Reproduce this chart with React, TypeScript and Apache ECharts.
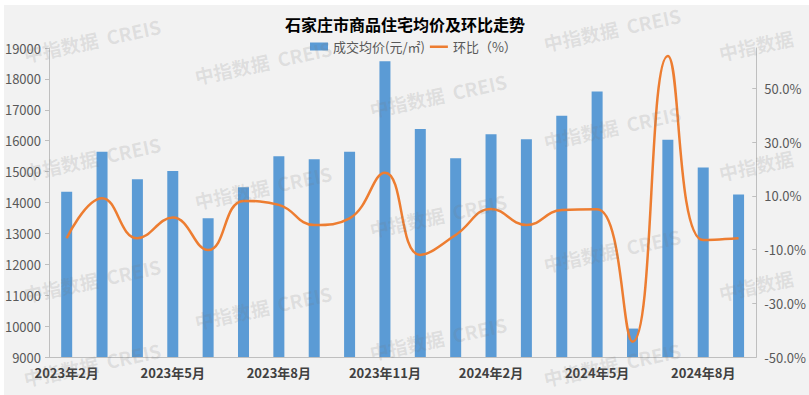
import React, { useEffect, useRef } from "react";
import * as echarts from "echarts";

const categories = [
  "2023年2月", "2023年3月", "2023年4月", "2023年5月", "2023年6月", "2023年7月",
  "2023年8月", "2023年9月", "2023年10月", "2023年11月", "2023年12月", "2024年1月",
  "2024年2月", "2024年3月", "2024年4月", "2024年5月", "2024年6月", "2024年7月",
  "2024年8月", "2024年9月",
];
const avgPrice = [
  14350, 15640, 14750, 15020, 13490, 14490, 15500, 15400, 15640, 18570,
  16380, 15430, 16210, 16050, 16810, 17590, 9920, 16030, 15130, 14260,
];
const momChange = [
  -5.8, 9.1, -5.8, 1.9, -10.2, 8.1, 6.6, -0.9, 1.6, 18.6,
  -12.0, -4.6, 5.1, -0.9, 4.7, 5.0, -44.3, 62.0, -6.5, -5.8,
];
const leftTicks = { min: 9000, max: 19000, interval: 1000 };
const rightTicks = { min: -50, max: 65, interval: 20 };

const watermarks: Array<[number, number, string]> = [
  [92, 40, "中指数据  CREIS"],
  [92, 158, "中指数据  CREIS"],
  [92, 280, "中指数据  CREIS"],
  [92, 364, "中指数据  CREIS"],
  [263, 62, "中指数据  CREIS"],
  [263, 187, "中指数据  CREIS"],
  [263, 307, "中指数据  CREIS"],
  [438, 95, "中指数据  CREIS"],
  [438, 215, "中指数据  CREIS"],
  [438, 338, "中指数据  CREIS"],
  [612, 29, "中指数据  CREIS"],
  [612, 127, "中指数据  CREIS"],
  [612, 250, "中指数据  CREIS"],
  [612, 364, "中指数据  CREIS"],
  [756, 45, "中指数据"],
  [756, 165, "中指数据"],
  [756, 285, "中指数据"],
];

const lineIcon =
  "path://M0,0 L0.01,0 L0.01,0.01 Z M0,3 L18,3 L18,5.5 L0,5.5 Z M17.99,8 L18,8 L18,7.99 Z";

export default function App() {
  const ref = useRef<HTMLDivElement>(null);
  useEffect(() => {
    if (!ref.current) return;
    const chart = echarts.init(ref.current, undefined, { renderer: "svg" });
    const font = '"Noto Sans CJK SC", "Noto Sans", sans-serif';
    const graphics: any[] = [
      {
        type: "rect",
        z: -100,
        silent: true,
        shape: { x: 4, y: 5, width: 805, height: 390 },
        style: { fill: "#f2f2f2" },
      },
    ];
    watermarks.forEach(([x, y, t]) => {
      graphics.push({
        type: "text",
        x,
        y,
        rotation: (12 * Math.PI) / 180,
        z: 100,
        silent: true,
        style: {
          text: t,
          fill: "rgba(120,120,120,0.16)",
          fontSize: 19,
          fontWeight: "bold",
          fontFamily: font,
          align: "center",
          verticalAlign: "middle",
        },
      });
    });
    chart.setOption({
      animation: false,
      textStyle: { fontFamily: font },
      title: {
        text: "石家庄市商品住宅均价及环比走势",
        left: 280,
        top: 11,
        textStyle: { fontSize: 16, fontWeight: "bold", color: "#000", fontFamily: font },
      },
      legend: {
        left: 305,
        top: 35,
        itemWidth: 18,
        itemHeight: 8,
        itemGap: 5,
        textStyle: { fontSize: 13, color: "#595959", fontFamily: font },
        data: [
          { name: "成交均价(元/㎡)", icon: "rect" },
          { name: "环比（%）", icon: lineIcon, itemStyle: { color: "#ed7d31" } },
        ],
      },
      graphic: graphics,
      grid: { left: 49, right: 52, top: 48, bottom: 38 },
      xAxis: {
        type: "category",
        data: categories,
        axisLine: { onZero: false, lineStyle: { color: "#bfbfbf", width: 1 } },
        axisTick: { interval: 2, length: 4, lineStyle: { color: "#bfbfbf" } },
        axisLabel: {
          interval: 2,
          margin: 9,
          fontSize: 13,
          fontWeight: "bold",
          color: "#404040",
          fontFamily: font,
        },
      },
      yAxis: [
        {
          type: "value",
          min: leftTicks.min,
          max: leftTicks.max,
          interval: leftTicks.interval,
          axisLine: { show: true, lineStyle: { color: "#bfbfbf" } },
          axisTick: { show: true, length: 4, lineStyle: { color: "#bfbfbf" } },
          splitLine: { show: false },
          axisLabel: {
            fontSize: 13,
            color: "#595959",
            margin: 8,
            fontFamily: font,
            formatter: (v: number) => String(v),
          },
        },
        {
          type: "value",
          min: rightTicks.min,
          max: rightTicks.max,
          interval: rightTicks.interval,
          position: "right",
          axisLine: { show: true, lineStyle: { color: "#bfbfbf" } },
          axisTick: { show: true, inside: true, length: 4, lineStyle: { color: "#bfbfbf" } },
          splitLine: { show: false },
          axisLabel: {
            fontSize: 13,
            color: "#595959",
            margin: 8,
            showMaxLabel: false,
            fontFamily: font,
            formatter: (v: number) => v.toFixed(1) + "%",
          },
        },
      ],
      series: [
        {
          name: "成交均价(元/㎡)",
          type: "bar",
          data: avgPrice,
          barWidth: 11,
          itemStyle: { color: "#5b9bd5" },
        },
        {
          name: "环比（%）",
          type: "line",
          yAxisIndex: 1,
          data: momChange,
          smooth: 0.45,
          symbol: "none",
          lineStyle: { color: "#ed7d31", width: 2.5 },
          itemStyle: { color: "#ed7d31" },
          z: 5,
        },
      ],
    });
    return () => chart.dispose();
  }, []);
  return (
    <div
      ref={ref}
      style={{ position: "fixed", left: 0, top: 0, width: 809, height: 395, background: "#fff" }}
    />
  );
}
